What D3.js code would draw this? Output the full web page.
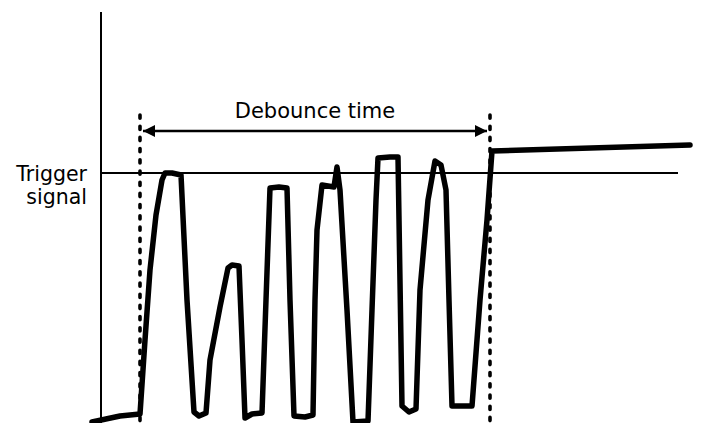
<!DOCTYPE html>
<html><head><meta charset="utf-8">
<script src="https://cdn.jsdelivr.net/npm/d3@7"></script>
<style>body{margin:0;background:#fff}svg{display:block}</style>
</head><body>
<script>
// time (arbitrary units) and signal level (1 = trigger threshold)
const time = [2,30,50,55,60,66,72,75,82,91,97,104,109,116,120,130,138,142,149,152,155,162,172,176,180,189,197,200,204,215,223,225,227,232,244,247,250,257,263,278,282,286,288,300,308,312,319,326,330,338,345,351,356,359,362,370,382,390,397,402,600];
const signal = [0.004,0.028,0.036,0.332,0.612,0.832,0.972,1.0,1.0,0.992,0.492,0.044,0.028,0.04,0.252,0.464,0.62,0.632,0.628,0.332,0.02,0.036,0.04,0.492,0.94,0.944,0.94,0.492,0.028,0.024,0.032,0.492,0.772,0.952,0.944,1.024,0.932,0.452,0.004,0.008,0.452,0.892,1.06,1.064,1.064,0.068,0.044,0.056,0.532,0.892,1.048,1.032,0.932,0.492,0.068,0.068,0.068,0.492,0.812,1.088,1.112];
const debounceStart = 50, debounceEnd = 400;
const threshold = 1.0;
const labels = {debounce: "Debounce time", trigger: ["Trigger", "signal"]};

const W = 709, H = 423;
const svg = d3.select("body").append("svg").attr("width", W).attr("height", H);
const x = d3.scaleLinear().domain([0, 619]).range([90, 709]);
const y = d3.scaleLinear().domain([0, 1]).range([423, 173]);

// axis
svg.append("line").attr("x1", x(11)).attr("x2", x(11)).attr("y1", 12).attr("y2", H)
  .attr("stroke", "#000").attr("stroke-width", 2);
// threshold line
svg.append("line").attr("x1", x(11)).attr("x2", x(588)).attr("y1", y(threshold)).attr("y2", y(threshold))
  .attr("stroke", "#000").attr("stroke-width", 2);

// dotted debounce markers
[debounceStart, debounceEnd].forEach(t => {
  svg.append("line").attr("x1", x(t)).attr("x2", x(t)).attr("y1", 115).attr("y2", H + 6)
    .attr("stroke", "#000").attr("stroke-width", 3.6).attr("stroke-linecap", "round")
    .attr("stroke-dasharray", "3.2,8");
});

// arrow
const defs = svg.append("defs");
defs.append("marker").attr("id", "ah").attr("viewBox", "0 0 10 10").attr("refX", 10).attr("refY", 5)
  .attr("markerWidth", 20).attr("markerHeight", 12).attr("markerUnits", "userSpaceOnUse")
  .attr("orient", "auto-start-reverse")
  .append("path").attr("d", "M0,0L10,5L0,10Z").attr("fill", "#000");
svg.append("line").attr("x1", x(debounceStart) + 3).attr("x2", x(debounceEnd) - 3).attr("y1", 131).attr("y2", 131)
  .attr("stroke", "#000").attr("stroke-width", 2.6)
  .attr("marker-start", "url(#ah)").attr("marker-end", "url(#ah)");

svg.append("text").attr("x", (x(debounceStart) + x(debounceEnd)) / 2).attr("y", 118)
  .attr("text-anchor", "middle").attr("font-family", "DejaVu Sans, Verdana, sans-serif")
  .attr("font-size", 21).text(labels.debounce);
const tt = svg.append("text").attr("text-anchor", "end").attr("font-family", "DejaVu Sans, Verdana, sans-serif")
  .attr("font-size", 20.5);
labels.trigger.forEach((s, i) => tt.append("tspan").attr("x", 87).attr("y", 181 + i * 23).text(s));

// signal
const pts = time.map((t, i) => [t, signal[i]]);
svg.append("path").datum(pts)
  .attr("d", d3.line().x(d => x(d[0])).y(d => y(d[1])).curve(d3.curveLinear))
  .attr("fill", "none").attr("stroke", "#000").attr("stroke-width", 5.5)
  .attr("stroke-linejoin", "round").attr("stroke-linecap", "round");
</script>
</body></html>
